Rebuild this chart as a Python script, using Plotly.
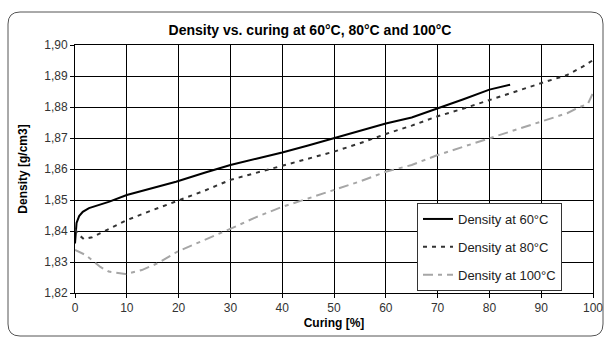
import plotly.graph_objects as go

# ---- data ----
x60 = [0, 0.1, 0.3, 0.8, 1.5, 2.7, 4.6, 6.5, 10, 13, 16, 19.5, 25, 30, 35, 40, 45, 50, 55, 60, 65, 70, 75, 80, 84]
y60 = [1.836, 1.840, 1.8426, 1.8448, 1.8462, 1.8474, 1.8484, 1.8494, 1.8516, 1.853, 1.8545, 1.8559, 1.8588,
       1.8613, 1.8633, 1.8653, 1.8676, 1.870, 1.8722, 1.8747, 1.8766, 1.8795, 1.8825, 1.8856, 1.8872]

x80 = [0, 0.4, 0.8, 1.7, 3.3, 6.5, 9.7, 13.5, 19.3, 25, 30, 35, 40, 45, 50, 55, 60, 65, 70, 75, 80, 85, 90, 95, 98, 100]
y80 = [1.8405, 1.8395, 1.8387, 1.8374, 1.838, 1.8406, 1.8433, 1.8458, 1.8494, 1.853, 1.8565, 1.8588, 1.861,
       1.8633, 1.8656, 1.8683, 1.8713, 1.874, 1.877, 1.8795, 1.8823, 1.885, 1.8877, 1.8903, 1.893, 1.8951]

x100 = [0, 2, 3.3, 4.9, 6.5, 9.7, 12.9, 16.1, 19.7, 25, 30.4, 35, 40, 45, 50, 55, 60, 65, 70, 75, 80, 85, 90,
        95, 97, 99, 100]
y100 = [1.8339, 1.8323, 1.8306, 1.8284, 1.8269, 1.8261, 1.8274, 1.8297, 1.8333, 1.837, 1.841, 1.8445, 1.8478,
        1.8505, 1.8532, 1.856, 1.8591, 1.8613, 1.8645, 1.8672, 1.870, 1.8727, 1.8753, 1.878, 1.8797, 1.881, 1.8845]

names = ["Density at 60°C", "Density at 80°C", "Density at 100°C"]
title = "Density vs. curing at 60°C, 80°C and 100°C"
x_title = "Curing [%]"
y_title = "Density [g/cm3]"

FONT = "Liberation Sans, Arial, sans-serif"

fig = go.Figure()
fig.add_trace(go.Scatter(x=x60, y=y60, mode="lines", name=names[0], legendgroup="a",
                         line=dict(color="#000000", width=2)))
fig.add_trace(go.Scatter(x=x80, y=y80, mode="lines", name=names[1], legendgroup="b",
                         line=dict(color="#333333", width=2, dash="4px,5px")))
fig.add_trace(go.Scatter(x=x100, y=y100, mode="lines", name=names[2], legendgroup="c",
                         line=dict(color="#a6a6a6", width=2, dash="10px,5px,4px,5px")))

L, R, T, B = 75, 18, 45, 47
W, H = 611, 340
pw, ph = W - L - R, H - T - B


def px(xp):
    return (xp - L) / pw


def py(yp):
    return (H - B - yp) / ph


# rounded outer border
x0, x1, y0, y1, r = px(8), px(603), py(12), py(336), 12
rx, ry = r / pw, r / ph
path = (f"M {x0 + rx},{y0} L {x1 - rx},{y0} Q {x1},{y0} {x1},{y0 - ry} "
        f"L {x1},{y1 + ry} Q {x1},{y1} {x1 - rx},{y1} "
        f"L {x0 + rx},{y1} Q {x0},{y1} {x0},{y1 + ry} "
        f"L {x0},{y0 - ry} Q {x0},{y0} {x0 + rx},{y0} Z")

fig.update_layout(
    width=W, height=H,
    margin=dict(l=L, r=R, t=T, b=B, autoexpand=False),
    paper_bgcolor="white", plot_bgcolor="white",
    separators=",.",
    font=dict(family=FONT, size=12, color="#222222"),
    title=dict(text="<b>" + title + "</b>", x=(310) / W, xanchor="center",
               y=1 - 30 / H, yanchor="middle", font=dict(size=14, color="#000000")),
    showlegend=True,
    legend=dict(x=px(562), xanchor="right", y=py(203), yanchor="top",
                bgcolor="white", bordercolor="#333333", borderwidth=1,
                font=dict(size=13, color="#222222"), tracegroupgap=8,
                itemwidth=30),
    shapes=[dict(type="path", xref="paper", yref="paper", path=path,
                 line=dict(color="#555555", width=1), fillcolor="rgba(0,0,0,0)", layer="below")],
)

fig.update_xaxes(range=[0, 100], dtick=10, tick0=0, showgrid=True, gridcolor="#000000", gridwidth=1,
                 showline=True, linecolor="#000000", linewidth=1, mirror=True, automargin=False,
                 ticks="outside", ticklen=4, tickcolor="#000000", zeroline=False,
                 tickfont=dict(size=12, color="#333333"),
                 title=dict(text="<b>" + x_title + "</b>", font=dict(size=12, color="#000000"), standoff=4))
fig.update_yaxes(range=[1.82, 1.90], dtick=0.01, tick0=1.82, tickformat=".2f", showgrid=True,
                 gridcolor="#000000", gridwidth=1,
                 showline=True, linecolor="#000000", linewidth=1, mirror=True, automargin=False,
                 ticks="outside", ticklen=4, tickcolor="#000000", zeroline=False,
                 tickfont=dict(size=12, color="#333333"),
                 title=dict(text="<b>" + y_title + "</b>", font=dict(size=12, color="#000000"), standoff=14))

fig.write_html("out.html", config={"displayModeBar": False},
               post_script="document.body.style.margin='0px';")
